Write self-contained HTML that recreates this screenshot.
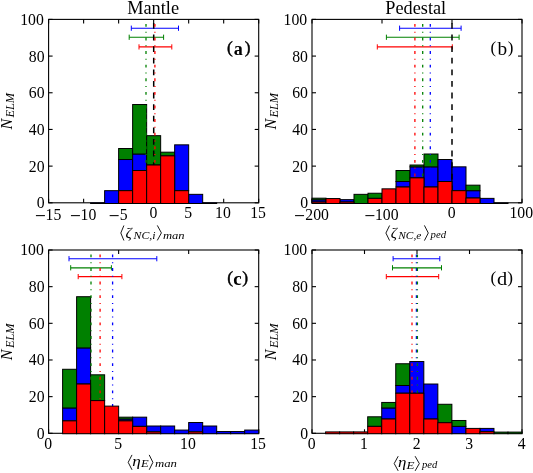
<!DOCTYPE html>
<html><head><meta charset="utf-8"><style>
html,body{margin:0;padding:0;background:#fff;}
body{width:533px;height:473px;overflow:hidden;font-family:"Liberation Serif",serif;}
svg{display:block;will-change:transform;}
</style></head><body>
<svg width="533" height="473" viewBox="0 0 533 473">
<rect width="533" height="473" fill="#fff"/>
<g stroke="#000" stroke-width="1.1" fill="none"><line x1="48.6" y1="202.8" x2="48.6" y2="198.8"/><line x1="48.6" y1="19.4" x2="48.6" y2="23.4"/><line x1="83.62" y1="202.8" x2="83.62" y2="198.8"/><line x1="83.62" y1="19.4" x2="83.62" y2="23.4"/><line x1="118.63" y1="202.8" x2="118.63" y2="198.8"/><line x1="118.63" y1="19.4" x2="118.63" y2="23.4"/><line x1="153.65" y1="202.8" x2="153.65" y2="198.8"/><line x1="153.65" y1="19.4" x2="153.65" y2="23.4"/><line x1="188.67" y1="202.8" x2="188.67" y2="198.8"/><line x1="188.67" y1="19.4" x2="188.67" y2="23.4"/><line x1="223.68" y1="202.8" x2="223.68" y2="198.8"/><line x1="223.68" y1="19.4" x2="223.68" y2="23.4"/><line x1="258.7" y1="202.8" x2="258.7" y2="198.8"/><line x1="258.7" y1="19.4" x2="258.7" y2="23.4"/><line x1="48.6" y1="202.8" x2="52.6" y2="202.8"/><line x1="258.7" y1="202.8" x2="254.7" y2="202.8"/><line x1="48.6" y1="166.12" x2="52.6" y2="166.12"/><line x1="258.7" y1="166.12" x2="254.7" y2="166.12"/><line x1="48.6" y1="129.44" x2="52.6" y2="129.44"/><line x1="258.7" y1="129.44" x2="254.7" y2="129.44"/><line x1="48.6" y1="92.76" x2="52.6" y2="92.76"/><line x1="258.7" y1="92.76" x2="254.7" y2="92.76"/><line x1="48.6" y1="56.08" x2="52.6" y2="56.08"/><line x1="258.7" y1="56.08" x2="254.7" y2="56.08"/><line x1="48.6" y1="19.4" x2="52.6" y2="19.4"/><line x1="258.7" y1="19.4" x2="254.7" y2="19.4"/><rect x="48.6" y="19.4" width="210.1" height="183.4" fill="none"/></g>
<rect x="90.62" y="202.86" width="14.01" height="0.64" fill="#0000ff" stroke="#000" stroke-width="1"/>
<rect x="104.63" y="190.67" width="14.01" height="12.83" fill="#0000ff" stroke="#000" stroke-width="1"/>
<rect x="118.63" y="159.51" width="14.01" height="31.16" fill="#0000ff" stroke="#000" stroke-width="1"/>
<rect x="118.63" y="148.51" width="14.01" height="11" fill="#008000" stroke="#000" stroke-width="1"/>
<rect x="132.64" y="154.01" width="14.01" height="16.5" fill="#0000ff" stroke="#000" stroke-width="1"/>
<rect x="132.64" y="104.52" width="14.01" height="49.49" fill="#008000" stroke="#000" stroke-width="1"/>
<rect x="146.65" y="135.68" width="14.01" height="29.33" fill="#008000" stroke="#000" stroke-width="1"/>
<rect x="160.65" y="152.18" width="14.01" height="3.67" fill="#008000" stroke="#000" stroke-width="1"/>
<rect x="174.66" y="144.84" width="14.01" height="45.83" fill="#0000ff" stroke="#000" stroke-width="1"/>
<rect x="188.67" y="194.34" width="14.01" height="9.16" fill="#0000ff" stroke="#000" stroke-width="1"/>
<rect x="202.67" y="202.86" width="14.01" height="0.64" fill="#0000ff" stroke="#000" stroke-width="1"/>
<g stroke="#0000ff" stroke-width="1.15" fill="none"><line x1="131.3" y1="28.2" x2="178.5" y2="28.2"/></g><g stroke="#0000ff" stroke-width="1" fill="none"><line x1="131.3" y1="25.6" x2="131.3" y2="30.8"/><line x1="178.5" y1="25.6" x2="178.5" y2="30.8"/></g>
<g stroke="#008000" stroke-width="1.15" fill="none"><line x1="129.2" y1="37.25" x2="163.6" y2="37.25"/></g><g stroke="#008000" stroke-width="1" fill="none"><line x1="129.2" y1="34.65" x2="129.2" y2="39.85"/><line x1="163.6" y1="34.65" x2="163.6" y2="39.85"/></g>
<g stroke="#ff0000" stroke-width="1.15" fill="none"><line x1="139" y1="46.9" x2="171.8" y2="46.9"/></g><g stroke="#ff0000" stroke-width="1" fill="none"><line x1="139" y1="44.3" x2="139" y2="49.5"/><line x1="171.8" y1="44.3" x2="171.8" y2="49.5"/></g>
<line x1="146" y1="202.8" x2="146" y2="19.4" stroke="#008000" stroke-width="1.3" stroke-dasharray="2.9 4.85 1 4.85" stroke-dashoffset="0.8"/>
<line x1="153.7" y1="202.8" x2="153.7" y2="19.4" stroke="#000000" stroke-width="1.5" stroke-dasharray="5.8 5.8" stroke-dashoffset="0"/>
<line x1="154.9" y1="202.8" x2="154.9" y2="19.4" stroke="#ff0000" stroke-width="1.3" stroke-dasharray="2.9 4.85 1 4.85" stroke-dashoffset="0.8"/>
<rect x="118.63" y="190.67" width="14.01" height="12.83" fill="#ff0000" stroke="#000" stroke-width="1"/>
<rect x="132.64" y="170.51" width="14.01" height="32.99" fill="#ff0000" stroke="#000" stroke-width="1"/>
<rect x="146.65" y="165.01" width="14.01" height="38.49" fill="#ff0000" stroke="#000" stroke-width="1"/>
<rect x="160.65" y="155.84" width="14.01" height="47.66" fill="#ff0000" stroke="#000" stroke-width="1"/>
<rect x="174.66" y="190.67" width="14.01" height="12.83" fill="#ff0000" stroke="#000" stroke-width="1"/>
<g font-family="Liberation Serif" fill="#000" style="font-kerning:none"><rect x="35.93" y="215.1" width="9" height="1.05"/><text x="45.54" y="219.6" font-size="16.4" textLength="15.74" lengthAdjust="spacingAndGlyphs">15</text><rect x="70.94" y="215.1" width="9" height="1.05"/><text x="80.55" y="219.6" font-size="16.4" textLength="15.74" lengthAdjust="spacingAndGlyphs">10</text><rect x="109.66" y="215.1" width="9" height="1.05"/><text x="119.75" y="219.6" font-size="16.4" textLength="7.87" lengthAdjust="spacingAndGlyphs">5</text><text x="149.41" y="218.2" font-size="16.4" textLength="7.87" lengthAdjust="spacingAndGlyphs">0</text><text x="184.28" y="218.2" font-size="16.4" textLength="7.87" lengthAdjust="spacingAndGlyphs">5</text><text x="215.12" y="218.2" font-size="16.4" textLength="15.74" lengthAdjust="spacingAndGlyphs">10</text><text x="250.14" y="218.2" font-size="16.4" textLength="15.74" lengthAdjust="spacingAndGlyphs">15</text><text x="36.73" y="208.25" font-size="16.4" textLength="7.87" lengthAdjust="spacingAndGlyphs">0</text><text x="28.86" y="171.57" font-size="16.4" textLength="15.74" lengthAdjust="spacingAndGlyphs">20</text><text x="28.86" y="134.89" font-size="16.4" textLength="15.74" lengthAdjust="spacingAndGlyphs">40</text><text x="28.86" y="98.21" font-size="16.4" textLength="15.74" lengthAdjust="spacingAndGlyphs">60</text><text x="28.86" y="61.53" font-size="16.4" textLength="15.74" lengthAdjust="spacingAndGlyphs">80</text><text x="20.18" y="24.85" font-size="16.4" textLength="23.62" lengthAdjust="spacingAndGlyphs">100</text></g>
<g transform="rotate(-90)" font-family="Liberation Serif" fill="#000" style="font-kerning:none"><text x="-129.58" y="12.1" font-size="16.6" font-style="italic" textLength="10.74" lengthAdjust="spacingAndGlyphs">N</text><text x="-117.46" y="14.1" font-size="12.4" font-style="italic" textLength="24.49" lengthAdjust="spacingAndGlyphs">ELM</text></g>
<g stroke="#000" stroke-width="1.1" fill="none"><line x1="312" y1="202.8" x2="312" y2="198.8"/><line x1="312" y1="19.4" x2="312" y2="23.4"/><line x1="382" y1="202.8" x2="382" y2="198.8"/><line x1="382" y1="19.4" x2="382" y2="23.4"/><line x1="452" y1="202.8" x2="452" y2="198.8"/><line x1="452" y1="19.4" x2="452" y2="23.4"/><line x1="522" y1="202.8" x2="522" y2="198.8"/><line x1="522" y1="19.4" x2="522" y2="23.4"/><line x1="312" y1="202.8" x2="316" y2="202.8"/><line x1="522" y1="202.8" x2="518" y2="202.8"/><line x1="312" y1="166.12" x2="316" y2="166.12"/><line x1="522" y1="166.12" x2="518" y2="166.12"/><line x1="312" y1="129.44" x2="316" y2="129.44"/><line x1="522" y1="129.44" x2="518" y2="129.44"/><line x1="312" y1="92.76" x2="316" y2="92.76"/><line x1="522" y1="92.76" x2="518" y2="92.76"/><line x1="312" y1="56.08" x2="316" y2="56.08"/><line x1="522" y1="56.08" x2="518" y2="56.08"/><line x1="312" y1="19.4" x2="316" y2="19.4"/><line x1="522" y1="19.4" x2="518" y2="19.4"/><rect x="312" y="19.4" width="210" height="183.4" fill="none"/></g>
<rect x="312" y="199.83" width="14" height="2.2" fill="#0000ff" stroke="#000" stroke-width="1"/>
<rect x="312" y="198.18" width="14" height="1.65" fill="#008000" stroke="#000" stroke-width="1"/>
<rect x="340" y="199.65" width="14" height="2.38" fill="#0000ff" stroke="#000" stroke-width="1"/>
<rect x="354" y="194.34" width="14" height="9.16" fill="#008000" stroke="#000" stroke-width="1"/>
<rect x="368" y="193.24" width="14" height="5.13" fill="#008000" stroke="#000" stroke-width="1"/>
<rect x="396" y="181.5" width="14" height="5.5" fill="#0000ff" stroke="#000" stroke-width="1"/>
<rect x="396" y="170.51" width="14" height="11" fill="#008000" stroke="#000" stroke-width="1"/>
<rect x="410" y="166.84" width="14" height="11" fill="#0000ff" stroke="#000" stroke-width="1"/>
<rect x="410" y="165.01" width="14" height="1.83" fill="#008000" stroke="#000" stroke-width="1"/>
<rect x="424" y="166.84" width="14" height="20.16" fill="#0000ff" stroke="#000" stroke-width="1"/>
<rect x="424" y="154.01" width="14" height="12.83" fill="#008000" stroke="#000" stroke-width="1"/>
<rect x="438" y="159.51" width="14" height="22" fill="#0000ff" stroke="#000" stroke-width="1"/>
<rect x="452" y="166.84" width="14" height="23.83" fill="#0000ff" stroke="#000" stroke-width="1"/>
<rect x="466" y="190.67" width="14" height="7.33" fill="#0000ff" stroke="#000" stroke-width="1"/>
<rect x="466" y="185.17" width="14" height="5.5" fill="#008000" stroke="#000" stroke-width="1"/>
<rect x="480" y="198.37" width="14" height="5.13" fill="#0000ff" stroke="#000" stroke-width="1"/>
<rect x="494" y="202.95" width="14" height="0.55" fill="#0000ff" stroke="#000" stroke-width="1"/>
<g stroke="#0000ff" stroke-width="1.15" fill="none"><line x1="399.6" y1="28.2" x2="461.1" y2="28.2"/></g><g stroke="#0000ff" stroke-width="1" fill="none"><line x1="399.6" y1="25.6" x2="399.6" y2="30.8"/><line x1="461.1" y1="25.6" x2="461.1" y2="30.8"/></g>
<g stroke="#008000" stroke-width="1.15" fill="none"><line x1="386.4" y1="37.25" x2="459.1" y2="37.25"/></g><g stroke="#008000" stroke-width="1" fill="none"><line x1="386.4" y1="34.65" x2="386.4" y2="39.85"/><line x1="459.1" y1="34.65" x2="459.1" y2="39.85"/></g>
<g stroke="#ff0000" stroke-width="1.15" fill="none"><line x1="377.3" y1="46.9" x2="452.3" y2="46.9"/></g><g stroke="#ff0000" stroke-width="1" fill="none"><line x1="377.3" y1="44.3" x2="377.3" y2="49.5"/><line x1="452.3" y1="44.3" x2="452.3" y2="49.5"/></g>
<line x1="414.9" y1="202.8" x2="414.9" y2="19.4" stroke="#ff0000" stroke-width="1.3" stroke-dasharray="2.9 4.85 1 4.85" stroke-dashoffset="0.8"/>
<line x1="422.7" y1="202.8" x2="422.7" y2="19.4" stroke="#008000" stroke-width="1.3" stroke-dasharray="2.9 4.85 1 4.85" stroke-dashoffset="0.8"/>
<line x1="430.3" y1="202.8" x2="430.3" y2="19.4" stroke="#0000ff" stroke-width="1.3" stroke-dasharray="2.9 4.85 1 4.85" stroke-dashoffset="0.8"/>
<line x1="452" y1="202.8" x2="452" y2="19.4" stroke="#000000" stroke-width="1.5" stroke-dasharray="5.8 5.8" stroke-dashoffset="0"/>
<rect x="312" y="202.03" width="14" height="1.47" fill="#ff0000" stroke="#000" stroke-width="1"/>
<rect x="326" y="198.55" width="14" height="4.95" fill="#ff0000" stroke="#000" stroke-width="1"/>
<rect x="340" y="202.03" width="14" height="1.47" fill="#ff0000" stroke="#000" stroke-width="1"/>
<rect x="368" y="198.37" width="14" height="5.13" fill="#ff0000" stroke="#000" stroke-width="1"/>
<rect x="382" y="188.84" width="14" height="14.66" fill="#ff0000" stroke="#000" stroke-width="1"/>
<rect x="396" y="187" width="14" height="16.5" fill="#ff0000" stroke="#000" stroke-width="1"/>
<rect x="410" y="177.84" width="14" height="25.66" fill="#ff0000" stroke="#000" stroke-width="1"/>
<rect x="424" y="187" width="14" height="16.5" fill="#ff0000" stroke="#000" stroke-width="1"/>
<rect x="438" y="181.5" width="14" height="22" fill="#ff0000" stroke="#000" stroke-width="1"/>
<rect x="452" y="190.67" width="14" height="12.83" fill="#ff0000" stroke="#000" stroke-width="1"/>
<rect x="466" y="198" width="14" height="5.5" fill="#ff0000" stroke="#000" stroke-width="1"/>
<g font-family="Liberation Serif" fill="#000" style="font-kerning:none"><rect x="295.04" y="215.1" width="9" height="1.05"/><text x="305.35" y="219.6" font-size="16.4" textLength="23.62" lengthAdjust="spacingAndGlyphs">200</text><rect x="365.38" y="215.1" width="9" height="1.05"/><text x="375" y="219.6" font-size="16.4" textLength="23.62" lengthAdjust="spacingAndGlyphs">100</text><text x="447.76" y="218.2" font-size="16.4" textLength="7.87" lengthAdjust="spacingAndGlyphs">0</text><text x="509.5" y="218.2" font-size="16.4" textLength="23.62" lengthAdjust="spacingAndGlyphs">100</text><text x="300.13" y="208.25" font-size="16.4" textLength="7.87" lengthAdjust="spacingAndGlyphs">0</text><text x="292.26" y="171.57" font-size="16.4" textLength="15.74" lengthAdjust="spacingAndGlyphs">20</text><text x="292.26" y="134.89" font-size="16.4" textLength="15.74" lengthAdjust="spacingAndGlyphs">40</text><text x="292.26" y="98.21" font-size="16.4" textLength="15.74" lengthAdjust="spacingAndGlyphs">60</text><text x="292.26" y="61.53" font-size="16.4" textLength="15.74" lengthAdjust="spacingAndGlyphs">80</text><text x="283.58" y="24.85" font-size="16.4" textLength="23.62" lengthAdjust="spacingAndGlyphs">100</text></g>
<g transform="rotate(-90)" font-family="Liberation Serif" fill="#000" style="font-kerning:none"><text x="-129.58" y="275.5" font-size="16.6" font-style="italic" textLength="10.74" lengthAdjust="spacingAndGlyphs">N</text><text x="-117.46" y="277.5" font-size="12.4" font-style="italic" textLength="24.49" lengthAdjust="spacingAndGlyphs">ELM</text></g>
<g stroke="#000" stroke-width="1.1" fill="none"><line x1="48.6" y1="433.3" x2="48.6" y2="429.3"/><line x1="48.6" y1="250" x2="48.6" y2="254"/><line x1="118.63" y1="433.3" x2="118.63" y2="429.3"/><line x1="118.63" y1="250" x2="118.63" y2="254"/><line x1="188.67" y1="433.3" x2="188.67" y2="429.3"/><line x1="188.67" y1="250" x2="188.67" y2="254"/><line x1="258.7" y1="433.3" x2="258.7" y2="429.3"/><line x1="258.7" y1="250" x2="258.7" y2="254"/><line x1="48.6" y1="433.3" x2="52.6" y2="433.3"/><line x1="258.7" y1="433.3" x2="254.7" y2="433.3"/><line x1="48.6" y1="396.64" x2="52.6" y2="396.64"/><line x1="258.7" y1="396.64" x2="254.7" y2="396.64"/><line x1="48.6" y1="359.98" x2="52.6" y2="359.98"/><line x1="258.7" y1="359.98" x2="254.7" y2="359.98"/><line x1="48.6" y1="323.32" x2="52.6" y2="323.32"/><line x1="258.7" y1="323.32" x2="254.7" y2="323.32"/><line x1="48.6" y1="286.66" x2="52.6" y2="286.66"/><line x1="258.7" y1="286.66" x2="254.7" y2="286.66"/><line x1="48.6" y1="250" x2="52.6" y2="250"/><line x1="258.7" y1="250" x2="254.7" y2="250"/><rect x="48.6" y="250" width="210.1" height="183.3" fill="none"/></g>
<rect x="62.61" y="407.96" width="14.01" height="12.89" fill="#0000ff" stroke="#000" stroke-width="1"/>
<rect x="62.61" y="369.28" width="14.01" height="38.68" fill="#008000" stroke="#000" stroke-width="1"/>
<rect x="76.61" y="347.91" width="14.01" height="36.1" fill="#0000ff" stroke="#000" stroke-width="1"/>
<rect x="76.61" y="296.71" width="14.01" height="51.21" fill="#008000" stroke="#000" stroke-width="1"/>
<rect x="90.62" y="374.81" width="14.01" height="25.79" fill="#008000" stroke="#000" stroke-width="1"/>
<rect x="118.63" y="419.01" width="14.01" height="1.84" fill="#0000ff" stroke="#000" stroke-width="1"/>
<rect x="118.63" y="417.17" width="14.01" height="1.84" fill="#008000" stroke="#000" stroke-width="1"/>
<rect x="132.64" y="417.17" width="14.01" height="9.21" fill="#0000ff" stroke="#000" stroke-width="1"/>
<rect x="146.65" y="426.01" width="14.01" height="5.89" fill="#0000ff" stroke="#000" stroke-width="1"/>
<rect x="160.65" y="426.01" width="14.01" height="7.74" fill="#0000ff" stroke="#000" stroke-width="1"/>
<rect x="174.66" y="430.07" width="14.01" height="3.68" fill="#0000ff" stroke="#000" stroke-width="1"/>
<rect x="188.67" y="422.51" width="14.01" height="9.39" fill="#0000ff" stroke="#000" stroke-width="1"/>
<rect x="202.67" y="426.01" width="14.01" height="7.74" fill="#0000ff" stroke="#000" stroke-width="1"/>
<rect x="216.68" y="431.54" width="14.01" height="2.21" fill="#0000ff" stroke="#000" stroke-width="1"/>
<rect x="230.69" y="431.54" width="14.01" height="2.21" fill="#0000ff" stroke="#000" stroke-width="1"/>
<rect x="244.69" y="430.07" width="14.01" height="3.68" fill="#0000ff" stroke="#000" stroke-width="1"/>
<g stroke="#0000ff" stroke-width="1.15" fill="none"><line x1="69" y1="258.7" x2="156.8" y2="258.7"/></g><g stroke="#0000ff" stroke-width="1" fill="none"><line x1="69" y1="256.1" x2="69" y2="261.3"/><line x1="156.8" y1="256.1" x2="156.8" y2="261.3"/></g>
<g stroke="#008000" stroke-width="1.15" fill="none"><line x1="70.7" y1="267.8" x2="111.4" y2="267.8"/></g><g stroke="#008000" stroke-width="1" fill="none"><line x1="70.7" y1="265.2" x2="70.7" y2="270.4"/><line x1="111.4" y1="265.2" x2="111.4" y2="270.4"/></g>
<g stroke="#ff0000" stroke-width="1.15" fill="none"><line x1="78.2" y1="276.6" x2="121.9" y2="276.6"/></g><g stroke="#ff0000" stroke-width="1" fill="none"><line x1="78.2" y1="274" x2="78.2" y2="279.2"/><line x1="121.9" y1="274" x2="121.9" y2="279.2"/></g>
<line x1="91" y1="433.3" x2="91" y2="250" stroke="#008000" stroke-width="1.3" stroke-dasharray="2.9 4.85 1 4.85" stroke-dashoffset="0.8"/>
<line x1="100.1" y1="433.3" x2="100.1" y2="250" stroke="#ff0000" stroke-width="1.3" stroke-dasharray="2.9 4.85 1 4.85" stroke-dashoffset="0.8"/>
<line x1="112.6" y1="433.3" x2="112.6" y2="250" stroke="#0000ff" stroke-width="1.3" stroke-dasharray="2.9 4.85 1 4.85" stroke-dashoffset="0.8"/>
<rect x="62.61" y="420.86" width="14.01" height="12.89" fill="#ff0000" stroke="#000" stroke-width="1"/>
<rect x="76.61" y="384.02" width="14.01" height="49.73" fill="#ff0000" stroke="#000" stroke-width="1"/>
<rect x="90.62" y="400.59" width="14.01" height="33.16" fill="#ff0000" stroke="#000" stroke-width="1"/>
<rect x="104.63" y="406.12" width="14.01" height="27.63" fill="#ff0000" stroke="#000" stroke-width="1"/>
<rect x="118.63" y="420.86" width="14.01" height="12.89" fill="#ff0000" stroke="#000" stroke-width="1"/>
<rect x="132.64" y="426.38" width="14.01" height="7.37" fill="#ff0000" stroke="#000" stroke-width="1"/>
<rect x="146.65" y="431.91" width="14.01" height="1.84" fill="#ff0000" stroke="#000" stroke-width="1"/>
<rect x="188.67" y="431.91" width="14.01" height="1.84" fill="#ff0000" stroke="#000" stroke-width="1"/>
<g font-family="Liberation Serif" fill="#000" style="font-kerning:none"><text x="44.36" y="448.7" font-size="16.4" textLength="7.87" lengthAdjust="spacingAndGlyphs">0</text><text x="114.25" y="448.7" font-size="16.4" textLength="7.87" lengthAdjust="spacingAndGlyphs">5</text><text x="180.1" y="448.7" font-size="16.4" textLength="15.74" lengthAdjust="spacingAndGlyphs">10</text><text x="250.14" y="448.7" font-size="16.4" textLength="15.74" lengthAdjust="spacingAndGlyphs">15</text><text x="36.73" y="438.75" font-size="16.4" textLength="7.87" lengthAdjust="spacingAndGlyphs">0</text><text x="28.86" y="402.09" font-size="16.4" textLength="15.74" lengthAdjust="spacingAndGlyphs">20</text><text x="28.86" y="365.43" font-size="16.4" textLength="15.74" lengthAdjust="spacingAndGlyphs">40</text><text x="28.86" y="328.77" font-size="16.4" textLength="15.74" lengthAdjust="spacingAndGlyphs">60</text><text x="28.86" y="292.11" font-size="16.4" textLength="15.74" lengthAdjust="spacingAndGlyphs">80</text><text x="20.18" y="255.45" font-size="16.4" textLength="23.62" lengthAdjust="spacingAndGlyphs">100</text></g>
<g transform="rotate(-90)" font-family="Liberation Serif" fill="#000" style="font-kerning:none"><text x="-360.13" y="12.1" font-size="16.6" font-style="italic" textLength="10.74" lengthAdjust="spacingAndGlyphs">N</text><text x="-348.01" y="14.1" font-size="12.4" font-style="italic" textLength="24.49" lengthAdjust="spacingAndGlyphs">ELM</text></g>
<g stroke="#000" stroke-width="1.1" fill="none"><line x1="312" y1="433.3" x2="312" y2="429.3"/><line x1="312" y1="250" x2="312" y2="254"/><line x1="364.5" y1="433.3" x2="364.5" y2="429.3"/><line x1="364.5" y1="250" x2="364.5" y2="254"/><line x1="417" y1="433.3" x2="417" y2="429.3"/><line x1="417" y1="250" x2="417" y2="254"/><line x1="469.5" y1="433.3" x2="469.5" y2="429.3"/><line x1="469.5" y1="250" x2="469.5" y2="254"/><line x1="522" y1="433.3" x2="522" y2="429.3"/><line x1="522" y1="250" x2="522" y2="254"/><line x1="312" y1="433.3" x2="316" y2="433.3"/><line x1="522" y1="433.3" x2="518" y2="433.3"/><line x1="312" y1="396.64" x2="316" y2="396.64"/><line x1="522" y1="396.64" x2="518" y2="396.64"/><line x1="312" y1="359.98" x2="316" y2="359.98"/><line x1="522" y1="359.98" x2="518" y2="359.98"/><line x1="312" y1="323.32" x2="316" y2="323.32"/><line x1="522" y1="323.32" x2="518" y2="323.32"/><line x1="312" y1="286.66" x2="316" y2="286.66"/><line x1="522" y1="286.66" x2="518" y2="286.66"/><line x1="312" y1="250" x2="316" y2="250"/><line x1="522" y1="250" x2="518" y2="250"/><rect x="312" y="250" width="210" height="183.3" fill="none"/></g>
<rect x="367.69" y="416.8" width="14.03" height="9.58" fill="#008000" stroke="#000" stroke-width="1"/>
<rect x="381.72" y="407.96" width="14.03" height="11.05" fill="#0000ff" stroke="#000" stroke-width="1"/>
<rect x="381.72" y="402.44" width="14.03" height="5.53" fill="#008000" stroke="#000" stroke-width="1"/>
<rect x="395.75" y="385.49" width="14.03" height="7.74" fill="#0000ff" stroke="#000" stroke-width="1"/>
<rect x="395.75" y="363.75" width="14.03" height="21.74" fill="#008000" stroke="#000" stroke-width="1"/>
<rect x="409.78" y="361.54" width="14.03" height="31.68" fill="#0000ff" stroke="#000" stroke-width="1"/>
<rect x="423.81" y="384.02" width="14.03" height="35" fill="#0000ff" stroke="#000" stroke-width="1"/>
<rect x="437.84" y="404.28" width="14.03" height="18.42" fill="#008000" stroke="#000" stroke-width="1"/>
<rect x="451.87" y="426.38" width="14.03" height="7.37" fill="#0000ff" stroke="#000" stroke-width="1"/>
<rect x="451.87" y="420.49" width="14.03" height="5.89" fill="#008000" stroke="#000" stroke-width="1"/>
<rect x="479.93" y="428.41" width="14.03" height="3.32" fill="#0000ff" stroke="#000" stroke-width="1"/>
<rect x="493.96" y="432.09" width="14.03" height="1.66" fill="#008000" stroke="#000" stroke-width="1"/>
<rect x="507.99" y="432.09" width="14.03" height="1.66" fill="#008000" stroke="#000" stroke-width="1"/>
<g stroke="#0000ff" stroke-width="1.15" fill="none"><line x1="393.1" y1="258.7" x2="439.8" y2="258.7"/></g><g stroke="#0000ff" stroke-width="1" fill="none"><line x1="393.1" y1="256.1" x2="393.1" y2="261.3"/><line x1="439.8" y1="256.1" x2="439.8" y2="261.3"/></g>
<g stroke="#008000" stroke-width="1.15" fill="none"><line x1="392.5" y1="267.8" x2="441.5" y2="267.8"/></g><g stroke="#008000" stroke-width="1" fill="none"><line x1="392.5" y1="265.2" x2="392.5" y2="270.4"/><line x1="441.5" y1="265.2" x2="441.5" y2="270.4"/></g>
<g stroke="#ff0000" stroke-width="1.15" fill="none"><line x1="386.3" y1="276.6" x2="438.7" y2="276.6"/></g><g stroke="#ff0000" stroke-width="1" fill="none"><line x1="386.3" y1="274" x2="386.3" y2="279.2"/><line x1="438.7" y1="274" x2="438.7" y2="279.2"/></g>
<line x1="412" y1="433.3" x2="412" y2="250" stroke="#ff0000" stroke-width="1.3" stroke-dasharray="2.9 4.85 1 4.85" stroke-dashoffset="0.8"/>
<line x1="416.4" y1="433.3" x2="416.4" y2="250" stroke="#0000ff" stroke-width="1.3" stroke-dasharray="2.9 4.85 1 4.85" stroke-dashoffset="0.8"/>
<line x1="417.4" y1="433.3" x2="417.4" y2="250" stroke="#008000" stroke-width="1.3" stroke-dasharray="2.9 4.85 1 4.85" stroke-dashoffset="0.8"/>
<rect x="325.6" y="431.91" width="14.03" height="1.84" fill="#ff0000" stroke="#000" stroke-width="1"/>
<rect x="339.63" y="431.91" width="14.03" height="1.84" fill="#ff0000" stroke="#000" stroke-width="1"/>
<rect x="353.66" y="431.91" width="14.03" height="1.84" fill="#ff0000" stroke="#000" stroke-width="1"/>
<rect x="367.69" y="426.38" width="14.03" height="7.37" fill="#ff0000" stroke="#000" stroke-width="1"/>
<rect x="381.72" y="419.01" width="14.03" height="14.74" fill="#ff0000" stroke="#000" stroke-width="1"/>
<rect x="395.75" y="393.23" width="14.03" height="40.52" fill="#ff0000" stroke="#000" stroke-width="1"/>
<rect x="409.78" y="393.23" width="14.03" height="40.52" fill="#ff0000" stroke="#000" stroke-width="1"/>
<rect x="423.81" y="419.01" width="14.03" height="14.74" fill="#ff0000" stroke="#000" stroke-width="1"/>
<rect x="437.84" y="422.7" width="14.03" height="11.05" fill="#ff0000" stroke="#000" stroke-width="1"/>
<rect x="465.9" y="428.41" width="14.03" height="5.34" fill="#ff0000" stroke="#000" stroke-width="1"/>
<rect x="479.93" y="431.72" width="14.03" height="2.03" fill="#ff0000" stroke="#000" stroke-width="1"/>
<g font-family="Liberation Serif" fill="#000" style="font-kerning:none"><text x="307.76" y="448.7" font-size="16.4" textLength="7.87" lengthAdjust="spacingAndGlyphs">0</text><text x="360.04" y="448.7" font-size="16.4" textLength="7.87" lengthAdjust="spacingAndGlyphs">1</text><text x="412.85" y="448.7" font-size="16.4" textLength="7.87" lengthAdjust="spacingAndGlyphs">2</text><text x="465.19" y="448.7" font-size="16.4" textLength="7.87" lengthAdjust="spacingAndGlyphs">3</text><text x="517.73" y="448.7" font-size="16.4" textLength="7.87" lengthAdjust="spacingAndGlyphs">4</text><text x="300.13" y="438.75" font-size="16.4" textLength="7.87" lengthAdjust="spacingAndGlyphs">0</text><text x="292.26" y="402.09" font-size="16.4" textLength="15.74" lengthAdjust="spacingAndGlyphs">20</text><text x="292.26" y="365.43" font-size="16.4" textLength="15.74" lengthAdjust="spacingAndGlyphs">40</text><text x="292.26" y="328.77" font-size="16.4" textLength="15.74" lengthAdjust="spacingAndGlyphs">60</text><text x="292.26" y="292.11" font-size="16.4" textLength="15.74" lengthAdjust="spacingAndGlyphs">80</text><text x="283.58" y="255.45" font-size="16.4" textLength="23.62" lengthAdjust="spacingAndGlyphs">100</text></g>
<g transform="rotate(-90)" font-family="Liberation Serif" fill="#000" style="font-kerning:none"><text x="-360.13" y="275.5" font-size="16.6" font-style="italic" textLength="10.74" lengthAdjust="spacingAndGlyphs">N</text><text x="-348.01" y="277.5" font-size="12.4" font-style="italic" textLength="24.49" lengthAdjust="spacingAndGlyphs">ELM</text></g>
<g font-family="Liberation Serif" fill="#000" style="font-kerning:none">
<text x="127.27" y="14.1" font-size="18.2" textLength="51.76" lengthAdjust="spacingAndGlyphs">Mantle</text>
<text x="385.27" y="13.9" font-size="18.2" textLength="60.89" lengthAdjust="spacingAndGlyphs">Pedestal</text>
<text x="226.94" y="53.31" font-size="17.31" stroke="#000" stroke-width="0.45">(</text>
<text x="244.8" y="53.31" font-size="17.31" stroke="#000" stroke-width="0.45">)</text>
<text x="233.72" y="54.7" font-size="19.6" font-weight="bold" textLength="9.06" lengthAdjust="spacingAndGlyphs">a</text>
<text x="490.45" y="53.18" font-size="16.98">(</text>
<text x="507.79" y="53.18" font-size="16.98">)</text>
<text x="497.5" y="54.8" font-size="19.6" textLength="9.63" lengthAdjust="spacingAndGlyphs">b</text>
<text x="227.13" y="283.37" font-size="17.53" stroke="#000" stroke-width="0.45">(</text>
<text x="242.23" y="283.37" font-size="17.53" stroke="#000" stroke-width="0.45">)</text>
<text x="233.15" y="284.9" font-size="19.6" font-weight="bold" textLength="8.42" lengthAdjust="spacingAndGlyphs">c</text>
<text x="490.54" y="283.34" font-size="17.2">(</text>
<text x="507.33" y="283.34" font-size="17.2">)</text>
<text x="497.06" y="284.8" font-size="19.6" textLength="10.18" lengthAdjust="spacingAndGlyphs">d</text>
<path d="M123.9 225.5L120.8 233L123.9 240.5" stroke="#000" stroke-width="0.9" fill="none" stroke-linejoin="miter"/>
<text x="125.4" y="237.9" font-size="15.4" font-style="italic" textLength="6.33" lengthAdjust="spacingAndGlyphs">ζ</text>
<text x="133.49" y="238.9" font-size="10.2" font-style="italic" textLength="22.07" lengthAdjust="spacingAndGlyphs">NC,i</text>
<path d="M157.3 225.4L161.4 232.9L157.3 240.4" stroke="#000" stroke-width="0.9" fill="none" stroke-linejoin="miter"/>
<text x="162.95" y="238.5" font-size="10" font-style="italic" textLength="21.68" lengthAdjust="spacingAndGlyphs">man</text>
<path d="M389.6 225.5L385.9 233.05L389.6 240.6" stroke="#000" stroke-width="0.9" fill="none" stroke-linejoin="miter"/>
<text x="390.7" y="237.9" font-size="15.4" font-style="italic" textLength="6.23" lengthAdjust="spacingAndGlyphs">ζ</text>
<text x="398.28" y="238.6" font-size="10.2" font-style="italic" textLength="23.07" lengthAdjust="spacingAndGlyphs">NC,e</text>
<path d="M424.4 225.4L428.3 233L424.4 240.6" stroke="#000" stroke-width="0.9" fill="none" stroke-linejoin="miter"/>
<text x="430.63" y="238" font-size="10.4" font-style="italic" textLength="15.54" lengthAdjust="spacingAndGlyphs">ped</text>
<path d="M132 454.9L128.2 462.35L132 469.8" stroke="#000" stroke-width="0.9" fill="none" stroke-linejoin="miter"/>
<text x="132.39" y="466.2" font-size="15.4" font-style="italic" textLength="8.53" lengthAdjust="spacingAndGlyphs">η</text>
<text x="140.95" y="467.2" font-size="10" font-style="italic" textLength="7.66" lengthAdjust="spacingAndGlyphs">E</text>
<path d="M149.2 454.9L152.9 462.35L149.2 469.8" stroke="#000" stroke-width="0.9" fill="none" stroke-linejoin="miter"/>
<text x="155.04" y="467.2" font-size="10" font-style="italic" textLength="21.99" lengthAdjust="spacingAndGlyphs">man</text>
<path d="M398.2 456.2L394.2 463.55L398.2 470.9" stroke="#000" stroke-width="0.9" fill="none" stroke-linejoin="miter"/>
<text x="398.1" y="467.4" font-size="15.4" font-style="italic" textLength="8.41" lengthAdjust="spacingAndGlyphs">η</text>
<text x="406.55" y="468.6" font-size="10" font-style="italic" textLength="7.96" lengthAdjust="spacingAndGlyphs">E</text>
<path d="M415.1 456.2L419.3 463.55L415.1 470.9" stroke="#000" stroke-width="0.9" fill="none" stroke-linejoin="miter"/>
<text x="422.02" y="468.2" font-size="10.4" font-style="italic" textLength="15.35" lengthAdjust="spacingAndGlyphs">ped</text>
</g>
</svg>
</body></html>
